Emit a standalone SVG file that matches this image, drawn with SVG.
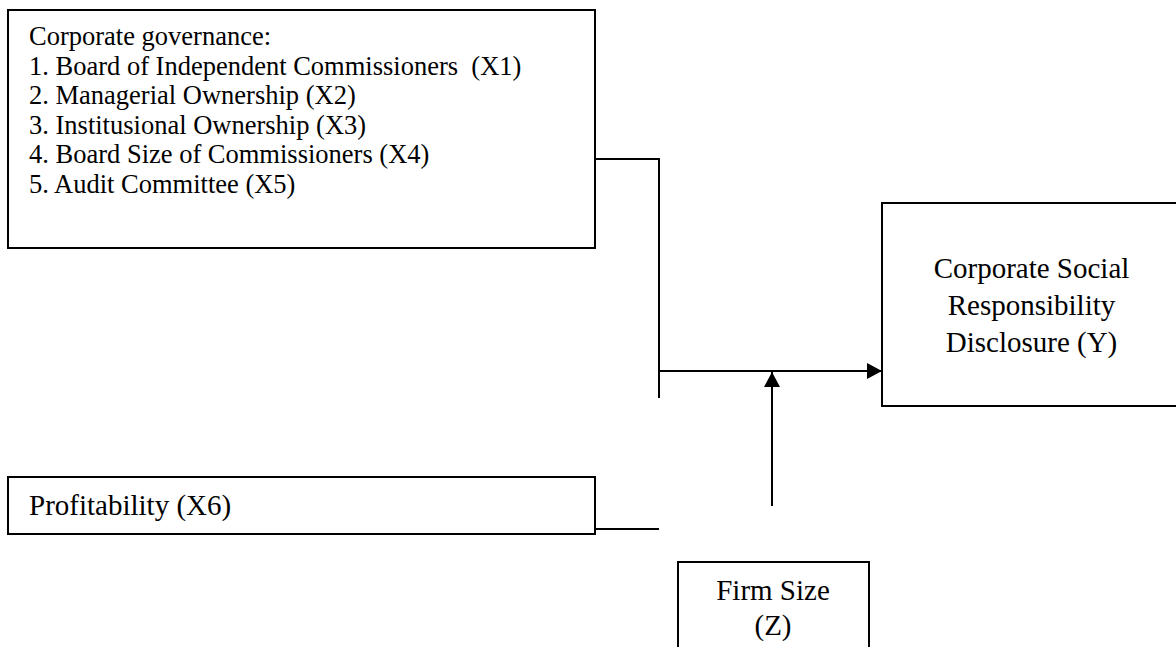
<svg xmlns="http://www.w3.org/2000/svg" width="1176" height="647" viewBox="0 0 1176 647">
  <style>
    .box { fill: #ffffff; stroke: #000000; stroke-width: 2; }
    .txt { font-family: "Liberation Serif", "Times New Roman", serif; fill: #000000; }
    .list { font-size: 26.5px; }
    .big { font-size: 29px; }
    .conn { fill: none; stroke: #000000; stroke-width: 2; }
  </style>
  <defs>
    <marker id="arrow" markerUnits="userSpaceOnUse" markerWidth="18" markerHeight="18" refX="15" refY="9" orient="auto">
      <path d="M0,1 L15,9 L0,17 z" fill="#000000"/>
    </marker>
  </defs>
  <rect width="1176" height="647" fill="#ffffff"/>

  <g id="node-governance">
    <rect class="box" x="8" y="10" width="587" height="238"/>
    <text class="txt list" x="29" y="45">Corporate governance:</text>
    <text class="txt list" x="29" y="74.6" xml:space="preserve">1. Board of Independent Commissioners  (X1)</text>
    <text class="txt list" x="29" y="104.2">2. Managerial Ownership (X2)</text>
    <text class="txt list" x="29" y="133.8">3. Institusional Ownership (X3)</text>
    <text class="txt list" x="29" y="163.4">4. Board Size of Commissioners (X4)</text>
    <text class="txt list" x="29" y="193">5. Audit Committee (X5)</text>
  </g>

  <g id="node-profitability">
    <rect class="box" x="8" y="477" width="587" height="57"/>
    <text class="txt big" x="29" y="515">Profitability (X6)</text>
  </g>

  <g id="node-csr">
    <rect class="box" x="882" y="203" width="300" height="203"/>
    <text class="txt big" x="1031.5" y="278" text-anchor="middle">Corporate Social</text>
    <text class="txt big" x="1031.5" y="315" text-anchor="middle">Responsibility</text>
    <text class="txt big" x="1031.5" y="352" text-anchor="middle">Disclosure (Y)</text>
  </g>

  <g id="node-firmsize">
    <rect class="box" x="678" y="562" width="191" height="100"/>
    <text class="txt big" x="773" y="600" text-anchor="middle">Firm Size</text>
    <text class="txt big" x="773" y="635" text-anchor="middle">(Z)</text>
  </g>

  <g id="connectors">
    <path class="conn" d="M595,159 H659 V398"/>
    <path class="conn" d="M595,529 H659"/>
    <path class="conn" d="M659,371 H882" marker-end="url(#arrow)"/>
    <path class="conn" d="M772,506 V372" marker-end="url(#arrow)"/>
  </g>
</svg>
